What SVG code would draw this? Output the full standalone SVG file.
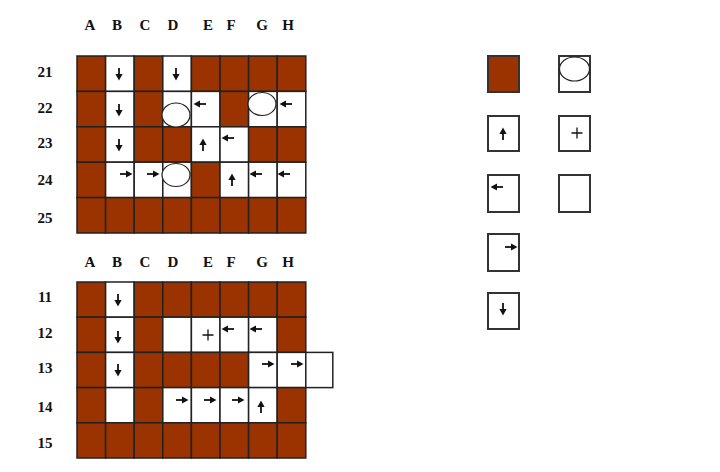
<svg xmlns="http://www.w3.org/2000/svg" xmlns:xlink="http://www.w3.org/1999/xlink" width="720" height="472" viewBox="0 0 720 472">
<style>
.lbl{font-family:"Liberation Serif",serif;font-weight:bold;font-size:15px;fill:#111;text-anchor:middle}
.b{fill:#9a3300;stroke:#222;stroke-width:1.5}
.w{fill:#fff;stroke:#222;stroke-width:1.5}
.lg{stroke:#333;stroke-width:2}
.ov{fill:#fff;stroke:#222;stroke-width:1.2}
.pl{stroke:#111;stroke-width:1.3;fill:none}
</style>
<defs>
<g id="ar">
<line x1="-6" y1="0" x2="1" y2="0" stroke="#111" stroke-width="1.8"/>
<polygon points="0,-3.6 6.5,0 0,3.6" fill="#111"/>
</g>
<g id="plus"><path class="pl" d="M-5.5,0H5.5M0,-5.5V5.5"/></g>
</defs>
<rect width="720" height="472" fill="#fff"/>
<g id="top-grid-labels">
<text class="lbl" x="90" y="30">A</text><text class="lbl" x="117" y="30">B</text><text class="lbl" x="145" y="30">C</text><text class="lbl" x="173" y="30">D</text><text class="lbl" x="208" y="30">E</text><text class="lbl" x="231" y="30">F</text><text class="lbl" x="262" y="30">G</text><text class="lbl" x="288" y="30">H</text>
<text class="lbl" x="45" y="77">21</text><text class="lbl" x="45" y="113">22</text><text class="lbl" x="45" y="148">23</text><text class="lbl" x="45" y="185">24</text><text class="lbl" x="45" y="223">25</text>
</g>
<g id="top-grid">
<g id="r21">
<rect class="b" x="77" y="56" width="28.6" height="35.4"/><rect class="w" x="105.6" y="56" width="28.6" height="35.4"/><rect class="b" x="134.2" y="56" width="28.6" height="35.4"/><rect class="w" x="162.8" y="56" width="28.6" height="35.4"/><rect class="b" x="191.4" y="56" width="28.6" height="35.4"/><rect class="b" x="220" y="56" width="28.6" height="35.4"/><rect class="b" x="248.6" y="56" width="28.6" height="35.4"/><rect class="b" x="277.2" y="56" width="28.6" height="35.4"/>
</g>
<g id="r22">
<rect class="b" x="77" y="91.4" width="28.6" height="35.4"/><rect class="w" x="105.6" y="91.4" width="28.6" height="35.4"/><rect class="b" x="134.2" y="91.4" width="28.6" height="35.4"/><rect class="w" x="162.8" y="91.4" width="28.6" height="35.4"/><rect class="w" x="191.4" y="91.4" width="28.6" height="35.4"/><rect class="b" x="220" y="91.4" width="28.6" height="35.4"/><rect class="w" x="248.6" y="91.4" width="28.6" height="35.4"/><rect class="w" x="277.2" y="91.4" width="28.6" height="35.4"/>
</g>
<g id="r23">
<rect class="b" x="77" y="126.8" width="28.6" height="35.4"/><rect class="w" x="105.6" y="126.8" width="28.6" height="35.4"/><rect class="b" x="134.2" y="126.8" width="28.6" height="35.4"/><rect class="b" x="162.8" y="126.8" width="28.6" height="35.4"/><rect class="w" x="191.4" y="126.8" width="28.6" height="35.4"/><rect class="w" x="220" y="126.8" width="28.6" height="35.4"/><rect class="b" x="248.6" y="126.8" width="28.6" height="35.4"/><rect class="b" x="277.2" y="126.8" width="28.6" height="35.4"/>
</g>
<g id="r24">
<rect class="b" x="77" y="162.2" width="28.6" height="35.4"/><rect class="w" x="105.6" y="162.2" width="28.6" height="35.4"/><rect class="w" x="134.2" y="162.2" width="28.6" height="35.4"/><rect class="w" x="162.8" y="162.2" width="28.6" height="35.4"/><rect class="b" x="191.4" y="162.2" width="28.6" height="35.4"/><rect class="w" x="220" y="162.2" width="28.6" height="35.4"/><rect class="w" x="248.6" y="162.2" width="28.6" height="35.4"/><rect class="w" x="277.2" y="162.2" width="28.6" height="35.4"/>
</g>
<g id="r25">
<rect class="b" x="77" y="197.6" width="28.6" height="35.4"/><rect class="b" x="105.6" y="197.6" width="28.6" height="35.4"/><rect class="b" x="134.2" y="197.6" width="28.6" height="35.4"/><rect class="b" x="162.8" y="197.6" width="28.6" height="35.4"/><rect class="b" x="191.4" y="197.6" width="28.6" height="35.4"/><rect class="b" x="220" y="197.6" width="28.6" height="35.4"/><rect class="b" x="248.6" y="197.6" width="28.6" height="35.4"/><rect class="b" x="277.2" y="197.6" width="28.6" height="35.4"/>
</g>
<g id="top-marks">
<ellipse class="ov" cx="176" cy="115" rx="14" ry="12"/>
<ellipse class="ov" cx="262" cy="104" rx="14" ry="11.5"/>
<ellipse class="ov" cx="176" cy="175" rx="14" ry="11.5"/>
<use xlink:href="#ar" transform="translate(119,74) rotate(90)"/>
<use xlink:href="#ar" transform="translate(176,74) rotate(90)"/>
<use xlink:href="#ar" transform="translate(119,110) rotate(90)"/>
<use xlink:href="#ar" transform="translate(200,104) rotate(180)"/>
<use xlink:href="#ar" transform="translate(286,104) rotate(180)"/>
<use xlink:href="#ar" transform="translate(119,145) rotate(90)"/>
<use xlink:href="#ar" transform="translate(203,145) rotate(-90)"/>
<use xlink:href="#ar" transform="translate(228,138) rotate(180)"/>
<use xlink:href="#ar" transform="translate(126,174)"/>
<use xlink:href="#ar" transform="translate(153,174)"/>
<use xlink:href="#ar" transform="translate(232,180) rotate(-90)"/>
<use xlink:href="#ar" transform="translate(256,174) rotate(180)"/>
<use xlink:href="#ar" transform="translate(284,174) rotate(180)"/>
</g>
</g>
<g id="bottom-grid-labels">
<text class="lbl" x="90" y="267">A</text><text class="lbl" x="117" y="267">B</text><text class="lbl" x="145" y="267">C</text><text class="lbl" x="173" y="267">D</text><text class="lbl" x="208" y="267">E</text><text class="lbl" x="231" y="267">F</text><text class="lbl" x="262" y="267">G</text><text class="lbl" x="288" y="267">H</text>
<text class="lbl" x="45" y="302">11</text><text class="lbl" x="45" y="338">12</text><text class="lbl" x="45" y="373">13</text><text class="lbl" x="45" y="412">14</text><text class="lbl" x="45" y="448">15</text>
</g>
<g id="bottom-grid">
<g id="r11">
<rect class="b" x="77" y="282" width="28.6" height="35.2"/><rect class="w" x="105.6" y="282" width="28.6" height="35.2"/><rect class="b" x="134.2" y="282" width="28.6" height="35.2"/><rect class="b" x="162.8" y="282" width="28.6" height="35.2"/><rect class="b" x="191.4" y="282" width="28.6" height="35.2"/><rect class="b" x="220" y="282" width="28.6" height="35.2"/><rect class="b" x="248.6" y="282" width="28.6" height="35.2"/><rect class="b" x="277.2" y="282" width="28.6" height="35.2"/>
</g>
<g id="r12">
<rect class="b" x="77" y="317.2" width="28.6" height="35.2"/><rect class="w" x="105.6" y="317.2" width="28.6" height="35.2"/><rect class="b" x="134.2" y="317.2" width="28.6" height="35.2"/><rect class="w" x="162.8" y="317.2" width="28.6" height="35.2"/><rect class="w" x="191.4" y="317.2" width="28.6" height="35.2"/><rect class="w" x="220" y="317.2" width="28.6" height="35.2"/><rect class="w" x="248.6" y="317.2" width="28.6" height="35.2"/><rect class="b" x="277.2" y="317.2" width="28.6" height="35.2"/>
</g>
<g id="r13">
<rect class="b" x="77" y="352.4" width="28.6" height="35.2"/><rect class="w" x="105.6" y="352.4" width="28.6" height="35.2"/><rect class="b" x="134.2" y="352.4" width="28.6" height="35.2"/><rect class="b" x="162.8" y="352.4" width="28.6" height="35.2"/><rect class="b" x="191.4" y="352.4" width="28.6" height="35.2"/><rect class="b" x="220" y="352.4" width="28.6" height="35.2"/><rect class="w" x="248.6" y="352.4" width="28.6" height="35.2"/><rect class="w" x="277.2" y="352.4" width="28.6" height="35.2"/><rect class="w" x="305.8" y="352.4" width="27" height="35.2"/>
</g>
<g id="r14">
<rect class="b" x="77" y="387.6" width="28.6" height="35.2"/><rect class="w" x="105.6" y="387.6" width="28.6" height="35.2"/><rect class="b" x="134.2" y="387.6" width="28.6" height="35.2"/><rect class="w" x="162.8" y="387.6" width="28.6" height="35.2"/><rect class="w" x="191.4" y="387.6" width="28.6" height="35.2"/><rect class="w" x="220" y="387.6" width="28.6" height="35.2"/><rect class="w" x="248.6" y="387.6" width="28.6" height="35.2"/><rect class="b" x="277.2" y="387.6" width="28.6" height="35.2"/>
</g>
<g id="r15">
<rect class="b" x="77" y="422.8" width="28.6" height="35.2"/><rect class="b" x="105.6" y="422.8" width="28.6" height="35.2"/><rect class="b" x="134.2" y="422.8" width="28.6" height="35.2"/><rect class="b" x="162.8" y="422.8" width="28.6" height="35.2"/><rect class="b" x="191.4" y="422.8" width="28.6" height="35.2"/><rect class="b" x="220" y="422.8" width="28.6" height="35.2"/><rect class="b" x="248.6" y="422.8" width="28.6" height="35.2"/><rect class="b" x="277.2" y="422.8" width="28.6" height="35.2"/>
</g>
<g id="bottom-marks">
<use xlink:href="#ar" transform="translate(118,300) rotate(90)"/>
<use xlink:href="#ar" transform="translate(118,337) rotate(90)"/>
<use xlink:href="#ar" transform="translate(118,370) rotate(90)"/>
<use xlink:href="#plus" transform="translate(208,335)"/>
<use xlink:href="#ar" transform="translate(228,329) rotate(180)"/>
<use xlink:href="#ar" transform="translate(256,329) rotate(180)"/>
<use xlink:href="#ar" transform="translate(268,364)"/>
<use xlink:href="#ar" transform="translate(297,364)"/>
<use xlink:href="#ar" transform="translate(182,400)"/>
<use xlink:href="#ar" transform="translate(210,400)"/>
<use xlink:href="#ar" transform="translate(238,400)"/>
<use xlink:href="#ar" transform="translate(261,407) rotate(-90)"/>
</g>
</g>
<g id="legend">
<g id="lg-wall"><rect class="b lg" x="488" y="56" width="31" height="36"/></g>
<g id="lg-circle"><rect class="w lg" x="559" y="56" width="31" height="36"/><ellipse class="ov" cx="574.5" cy="69" rx="15" ry="12"/></g>
<g id="lg-up"><rect class="w lg" x="488" y="116" width="31" height="35"/><use xlink:href="#ar" transform="translate(503,134) rotate(-90)"/></g>
<g id="lg-plus"><rect class="w lg" x="559" y="116" width="31" height="35"/><use xlink:href="#plus" transform="translate(577,133)"/></g>
<g id="lg-left"><rect class="w lg" x="488" y="175" width="31" height="37"/><use xlink:href="#ar" transform="translate(497,187) rotate(180)"/></g>
<g id="lg-empty"><rect class="w lg" x="559" y="175" width="31" height="37"/></g>
<g id="lg-right"><rect class="w lg" x="488" y="234" width="31" height="37"/><use xlink:href="#ar" transform="translate(511,247)"/></g>
<g id="lg-down"><rect class="w lg" x="488" y="293" width="31" height="36"/><use xlink:href="#ar" transform="translate(503,309) rotate(90)"/></g>
</g>
</svg>
